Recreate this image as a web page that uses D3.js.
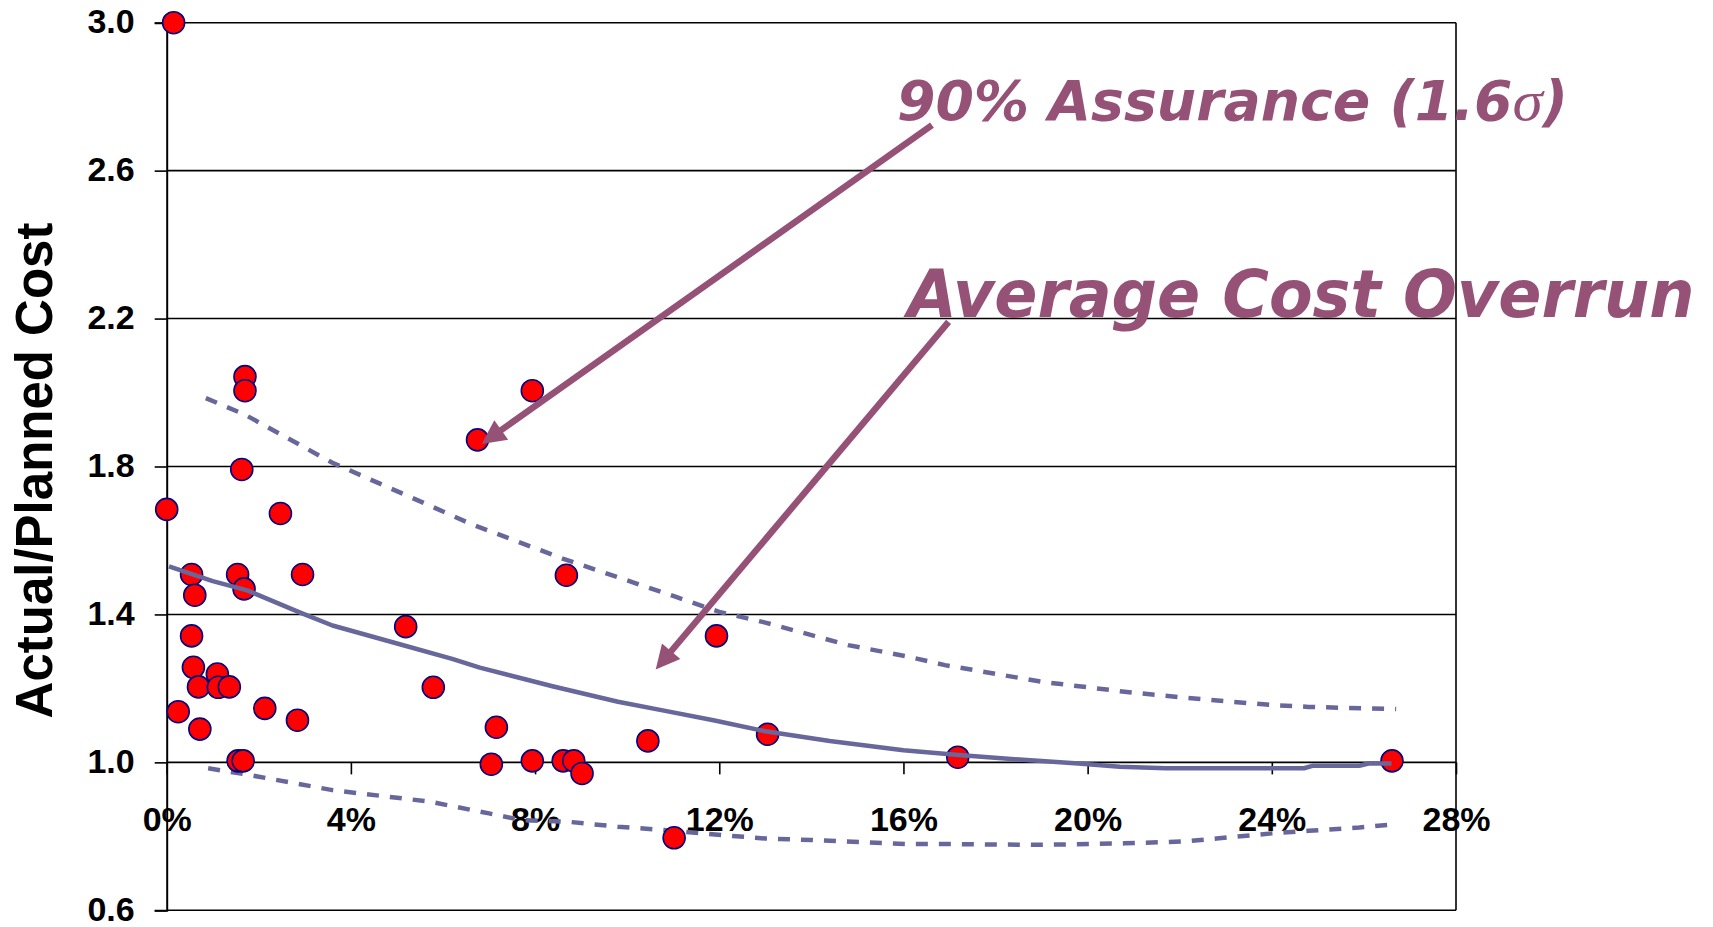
<!DOCTYPE html>
<html>
<head>
<meta charset="utf-8">
<script src="https://cdn.jsdelivr.net/npm/d3@7"></script>
<style>
  html, body { margin: 0; padding: 0; background: #fff; }
  svg { display: block; }
</style>
</head>
<body>
<svg id="chart" width="1713" height="927"></svg>
<script>
// ---- data (x in %, y = Actual/Planned cost) ----
const pointX = [0.15, 0.0, 1.70, 1.70, 1.63, 2.47, 0.54, 1.54, 1.68, 2.95, 0.61, 5.19, 0.54, 0.58, 1.10, 0.69, 1.12, 1.36, 0.25, 0.72, 2.13, 2.84, 1.55, 1.66, 5.79, 7.94, 6.75, 8.68, 11.94, 7.16, 7.05, 7.94, 8.61, 8.84, 9.02, 10.45, 13.05, 11.02, 17.18, 26.61];
const pointY = [3.0, 1.684, 2.043, 2.005, 1.792, 1.673, 1.508, 1.508, 1.469, 1.508, 1.452, 1.367, 1.342, 1.257, 1.239, 1.204, 1.203, 1.204, 1.137, 1.090, 1.146, 1.114, 1.004, 1.004, 1.203, 2.005, 1.872, 1.506, 1.342, 1.095, 0.995, 1.004, 1.004, 1.004, 0.970, 1.058, 1.076, 0.796, 1.014, 1.004];

const meanX = [0.05, 1.0, 1.75, 2.9, 3.6, 5.1, 6.2, 6.8, 8.4, 9.8, 10.8, 11.9, 13.0, 14.4, 16.0, 17.2, 18.6, 19.8, 20.7, 21.7, 24.7, 24.9, 25.9, 26.1, 26.6];
const meanY = [1.53, 1.49, 1.465, 1.405, 1.37, 1.318, 1.28, 1.256, 1.205, 1.164, 1.14, 1.113, 1.084, 1.058, 1.033, 1.02, 1.007, 0.997, 0.988, 0.984, 0.984, 0.991, 0.991, 0.997, 0.997];

const upperX = [0.85, 1.7, 3.6, 5.7, 6.6, 8.6, 11.0, 12.0, 13.0, 14.8, 16.1, 16.9, 19.0, 20.8, 22.1, 23.1, 24.0, 24.8, 26.7];
const upperY = [1.985, 1.94, 1.81, 1.695, 1.645, 1.551, 1.45, 1.407, 1.378, 1.317, 1.286, 1.263, 1.218, 1.191, 1.175, 1.164, 1.155, 1.150, 1.144];

const lowerX = [0.9, 1.7, 3.6, 5.7, 7.0, 7.7, 8.75, 9.8, 10.8, 12.1, 13.0, 14.0, 16.1, 17.0, 19.0, 20.8, 22.1, 22.8, 24.0, 24.8, 25.9, 26.7];
const lowerY = [0.984, 0.968, 0.925, 0.894, 0.862, 0.844, 0.839, 0.826, 0.817, 0.803, 0.794, 0.790, 0.779, 0.779, 0.777, 0.781, 0.786, 0.794, 0.808, 0.815, 0.824, 0.833];

const xTickValues = [0, 4, 8, 12, 16, 20, 24, 28];
const yTickValues = [0.6, 1.0, 1.4, 1.8, 2.2, 2.6, 3.0];
const yAxisTitle = "Actual/Planned Cost";

// annotation texts and arrows (data coordinates)
const annotText = ["90% Assurance (1.6", "Average Cost Overrun"];
const annotX = [15.86, 16.09];
const annotY = [2.737, 2.205];
const arrowFromX = [16.62, 16.98];
const arrowFromY = [2.723, 2.191];
const arrowToX = [6.84, 10.62];
const arrowToY = [1.861, 1.251];

// ---- layout ----
const L = 166.7, R = 1456, T = 22.7, B = 910.3;
const x = d3.scaleLinear().domain([0, 28]).range([L, R]);
const y = d3.scaleLinear().domain([0.6, 3.0]).range([B, T]);

const svg = d3.select("#chart");
const AXIS_FONT = "'Liberation Sans', Arial, sans-serif";
const ANN_COLOR = "#955176";
const LINE_COLOR = "#67679c";

// gridlines
svg.append("g").selectAll("line").data(yTickValues).join("line")
  .attr("x1", L).attr("x2", R)
  .attr("y1", d => y(d)).attr("y2", d => y(d))
  .attr("stroke", "#000").attr("stroke-width", 1.6);

// right border
svg.append("line").attr("x1", R).attr("x2", R).attr("y1", T).attr("y2", B)
  .attr("stroke", "#000").attr("stroke-width", 1.6);

// y axis
const yAxis = d3.axisLeft(y).tickValues(yTickValues).tickFormat(d3.format(".1f"))
  .tickSize(12).tickPadding(20);
const gy = svg.append("g").attr("transform", `translate(${L},0)`).call(yAxis);
gy.select(".domain").attr("stroke", "#000").attr("stroke-width", 2);
gy.selectAll(".tick line").attr("stroke", "#000").attr("stroke-width", 1.6);
gy.selectAll(".tick text").attr("font-family", AXIS_FONT).attr("font-weight", "bold")
  .attr("font-size", 34).attr("fill", "#000").attr("dy", "0.3em");

// x axis (crossing at y = 1.0)
const xAxis = d3.axisBottom(x).tickValues(xTickValues).tickFormat(d => d + "%")
  .tickSize(12).tickPadding(33);
const gx = svg.append("g").attr("transform", `translate(0,${y(1.0)})`).call(xAxis);
gx.select(".domain").remove();
gx.selectAll(".tick line").attr("stroke", "#000").attr("stroke-width", 1.6);
gx.selectAll(".tick text").attr("font-family", AXIS_FONT).attr("font-weight", "bold")
  .attr("font-size", 34).attr("fill", "#000");

// y axis title
svg.append("text")
  .attr("transform", `translate(52,${(T + B) / 2 + 4}) rotate(-90)`)
  .attr("text-anchor", "middle")
  .attr("font-family", AXIS_FONT).attr("font-weight", "bold").attr("font-size", 51)
  .attr("fill", "#000").text(yAxisTitle);

// lines
const lineGen = d3.line().x(d => x(d[0])).y(d => y(d[1]));
const zip = (a, b) => a.map((v, i) => [v, b[i]]);

svg.append("path").datum(zip(upperX, upperY)).attr("d", lineGen)
  .attr("fill", "none").attr("stroke", LINE_COLOR).attr("stroke-width", 4.5)
  .attr("stroke-dasharray", "12,11");
svg.append("path").datum(zip(lowerX, lowerY)).attr("d", lineGen)
  .attr("fill", "none").attr("stroke", LINE_COLOR).attr("stroke-width", 4.5)
  .attr("stroke-dasharray", "12,11");

// points
svg.append("g").selectAll("circle").data(zip(pointX, pointY)).join("circle")
  .attr("cx", d => x(d[0])).attr("cy", d => y(d[1])).attr("r", 11)
  .attr("fill", "#ff0000").attr("stroke", "#000080").attr("stroke-width", 1.6);

svg.append("path").datum(zip(meanX, meanY)).attr("d", lineGen)
  .attr("fill", "none").attr("stroke", LINE_COLOR).attr("stroke-width", 4.5)
  .attr("stroke-linejoin", "round");

// arrows
for (let i = 0; i < arrowFromX.length; i++) {
  const x0 = x(arrowFromX[i]), y0 = y(arrowFromY[i]);
  const x1 = x(arrowToX[i]), y1 = y(arrowToY[i]);
  const dx = x1 - x0, dy = y1 - y0, len = Math.hypot(dx, dy);
  const ux = dx / len, uy = dy / len;
  const headLen = 24, headW = 12;
  const bx = x1 - ux * headLen, by = y1 - uy * headLen;
  svg.append("line").attr("x1", x0).attr("y1", y0)
    .attr("x2", x1 - ux * (headLen - 4)).attr("y2", y1 - uy * (headLen - 4))
    .attr("stroke", ANN_COLOR).attr("stroke-width", 6.5);
  svg.append("polygon")
    .attr("points", [[x1, y1], [bx - uy * headW, by + ux * headW], [bx + uy * headW, by - ux * headW]].map(p => p.join(",")).join(" "))
    .attr("fill", ANN_COLOR);
}

// annotation texts
const ANN_FONT = "'DejaVu Sans Condensed', 'DejaVu Sans', sans-serif";
const t1 = svg.append("text").attr("x", x(annotX[0])).attr("y", y(annotY[0]))
  .attr("font-family", ANN_FONT).attr("font-weight", "bold").attr("font-style", "italic")
  .attr("font-size", 56).attr("fill", ANN_COLOR)
  .attr("textLength", 671).attr("lengthAdjust", "spacingAndGlyphs");
t1.append("tspan").text(annotText[0]);
t1.append("tspan").attr("font-family", "'Liberation Serif', serif").attr("font-weight", "normal").text("σ");
t1.append("tspan").text(")");

svg.append("text").attr("x", x(annotX[1])).attr("y", y(annotY[1]))
  .attr("font-family", ANN_FONT).attr("font-weight", "bold").attr("font-style", "italic")
  .attr("font-size", 66).attr("fill", ANN_COLOR)
  .attr("textLength", 787).attr("lengthAdjust", "spacingAndGlyphs")
  .text(annotText[1]);
</script>
</body>
</html>
